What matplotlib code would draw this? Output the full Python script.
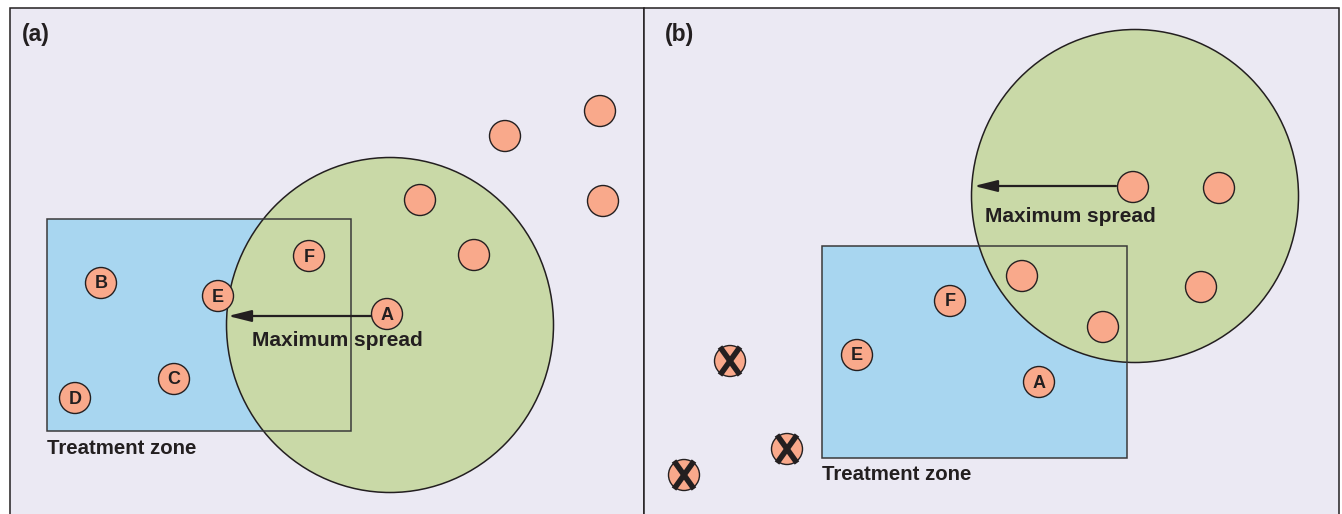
import matplotlib.pyplot as plt
from matplotlib.patches import Rectangle, Ellipse, Circle

# diagram coordinates are in image pixels (y grows downward)
bg = "#EBE9F3"
green = "#C9D9A7"
blue = "#A8D6F0"
salmon = "#F9A98B"
ink = "#231F20"

# panel frames: left, right
panel_x = [(10, 644), (644, 1339)]
panel_top = 8
panel_tags = ["(a)", "(b)"]
tag_x = [22, 665]

# treatment zones: x0, y0, x1, y1
zone_a = (47, 219, 351, 431)
zone_b = (822, 246, 1127, 458)

# spread ellipses: cx, cy, width, height
spread_a = (390, 325, 327, 335)
spread_b = (1135, 196, 327, 333)

# points in panel (a)
pts_a_x = [101, 218, 309, 387, 174, 75, 420, 474, 505, 600, 603]
pts_a_y = [283, 296, 256, 314, 379, 398, 200, 255, 136, 111, 201]
pts_a_lab = ["B", "E", "F", "A", "C", "D", "", "", "", "", ""]

# points in panel (b)
pts_b_x = [1133, 1219, 1022, 1201, 1103, 950, 857, 1039]
pts_b_y = [187, 188, 276, 287, 327, 301, 355, 382]
pts_b_lab = ["", "", "", "", "", "F", "E", "A"]

# removed points in panel (b)
dead_x = [730, 787, 684]
dead_y = [361, 449, 475]

# arrows: start x, end x, y; label x, label y
arrow_a = (372, 228, 316)
arrow_b = (1116, 974, 186)
label_a = (252, 341)
label_b = (985, 216)

fig = plt.figure(figsize=(13.42, 5.14), dpi=100)
ax = fig.add_axes([0, 0, 1, 1])
ax.set_xlim(0, 1342)
ax.set_ylim(514, 0)
ax.axis("off")

for (x0, x1), tag, tx in zip(panel_x, panel_tags, tag_x):
    ax.add_patch(Rectangle((x0, panel_top), x1 - x0, 520, facecolor=bg,
                           edgecolor=ink, lw=1.1, zorder=0))
    ax.text(tx, 35, tag, fontsize=16.5, color=ink, va="center", ha="left",
            family="Liberation Sans", weight="bold")


def zone(z):
    x0, y0, x1, y1 = z
    ax.add_patch(Rectangle((x0, y0), x1 - x0, y1 - y0, facecolor=blue,
                           edgecolor="none", zorder=1))
    ax.add_patch(Rectangle((x0, y0), x1 - x0, y1 - y0, facecolor="none",
                           edgecolor="#3a3a3a", lw=1.1, zorder=3))
    ax.text(x0, y1 + 17, "Treatment zone", fontsize=14.7, color=ink,
            va="center", ha="left", family="Liberation Sans", weight="bold")


def spread(s):
    cx, cy, w, h = s
    ax.add_patch(Ellipse((cx, cy), w, h, facecolor=green, edgecolor=ink,
                         lw=1.1, zorder=2))


def dots(xs, ys, labs):
    for x, y, lab in zip(xs, ys, labs):
        ax.add_patch(Circle((x, y), 15.5, facecolor=salmon, edgecolor=ink,
                            lw=1.0, zorder=5))
        if lab:
            ax.text(x, y + 1, lab, fontsize=13, color=ink, ha="center",
                    va="center", family="Liberation Sans", weight="bold",
                    zorder=6)


def arrow(a, lab):
    x0, x1, y = a
    ax.annotate("", xy=(x1, y), xytext=(x0, y),
                arrowprops=dict(arrowstyle="-|>,head_length=1.4,head_width=0.35",
                                color=ink, lw=1.6, shrinkA=0, shrinkB=0),
                zorder=4)
    ax.text(lab[0], lab[1], "Maximum spread", fontsize=15, color=ink,
            ha="left", va="center", family="Liberation Sans", weight="bold",
            zorder=4)


spread(spread_a)
zone(zone_a)
arrow(arrow_a, label_a)
dots(pts_a_x, pts_a_y, pts_a_lab)

zone(zone_b)
spread(spread_b)
arrow(arrow_b, label_b)
dots(pts_b_x, pts_b_y, pts_b_lab)
dots(dead_x, dead_y, [""] * len(dead_x))
for x, y in zip(dead_x, dead_y):
    dx, dy = 10, 14
    ax.plot([x - dx, x + dx], [y - dy, y + dy], color=ink, lw=4,
            solid_capstyle="butt", zorder=6)
    ax.plot([x + dx, x - dx], [y - dy, y + dy], color=ink, lw=4,
            solid_capstyle="butt", zorder=6)

fig.savefig("out.png", dpi=100, facecolor="white")
